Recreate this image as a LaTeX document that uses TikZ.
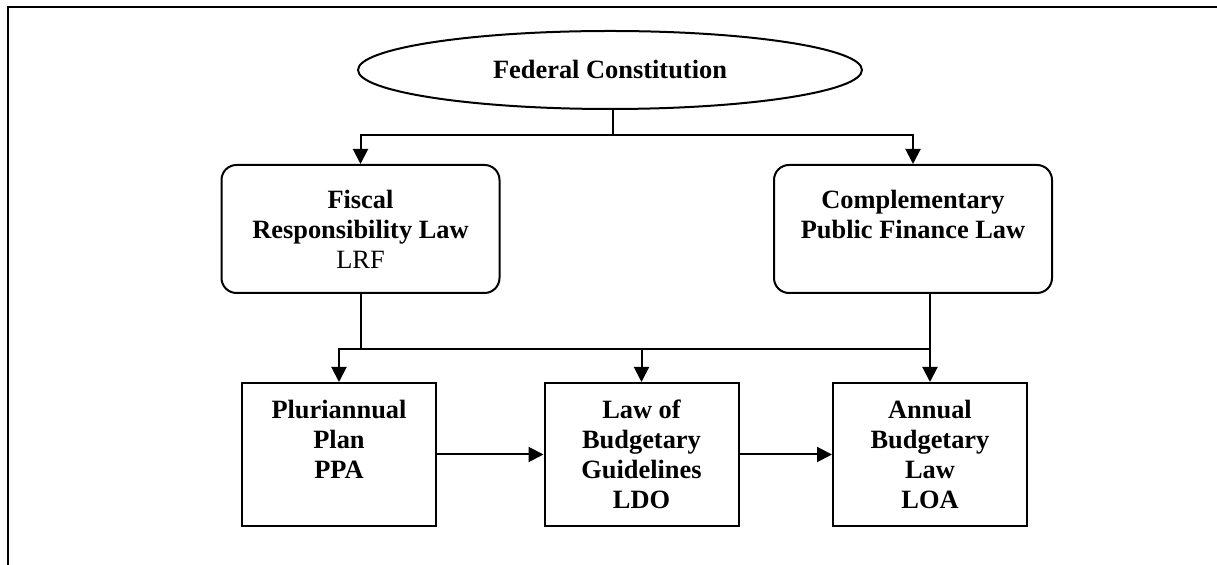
\documentclass[tikz,border=0pt]{standalone}
\usepackage{fontspec}
\setmainfont{Liberation Serif}
\usetikzlibrary{shapes.geometric, arrows.meta, calc}

\begin{document}
\begin{tikzpicture}[x=0.5pt, y=-0.5pt,
  font=\fontsize{13.2}{15}\selectfont\bfseries, line width=1pt,
  ell/.style={draw, ellipse, inner sep=0pt, minimum width=252pt, minimum height=39pt},
  rbox/.style={draw, rounded corners=7.5pt, align=center, minimum width=139pt, minimum height=64pt},
  sbox/.style={draw, align=center, minimum width=97pt, minimum height=71.5pt},
  arr/.style={-{Triangle[length=7.5pt, width=7.5pt]}}]
\useasboundingbox (0,0) rectangle (1217,565);
% frame, only top and left sides
\draw (8,565) -- (8,7) -- (1217,7);
\node [ell] (fc) at (610,70) {Federal Constitution};
\node [rbox] (lrf) at (360.5,229) {Fiscal\\Responsibility Law\\{\mdseries LRF}};
\node [rbox] (cpf) at (913,229) {Complementary\\Public Finance Law\\\mbox{}};
\node [sbox] (ppa) at (339,454.5) {Pluriannual\\Plan\\PPA\\\mbox{}};
\node [sbox] (ldo) at (641.5,454.5) {Law of\\Budgetary\\Guidelines\\LDO};
\node [sbox] (loa) at (930,454.5) {Annual\\Budgetary\\Law\\LOA};
\coordinate (split) at (613,135);
\coordinate (bus) at (641.5,349);
\draw (fc.south -| split) -- (split);
\draw [arr] (split) -| (lrf.north);
\draw [arr] (split) -| (cpf.north);
\draw [arr] (lrf.south) |- (ppa.north |- bus) -- (ppa.north);
\draw (lrf.south |- bus) -- (loa.north |- bus);
\draw [arr] (bus) -- (ldo.north);
\draw [arr] (cpf.south -| loa.north) -- (loa.north);
\draw [arr] (ppa) -- (ldo);
\draw [arr] (ldo) -- (loa);
\end{tikzpicture}
\end{document}
